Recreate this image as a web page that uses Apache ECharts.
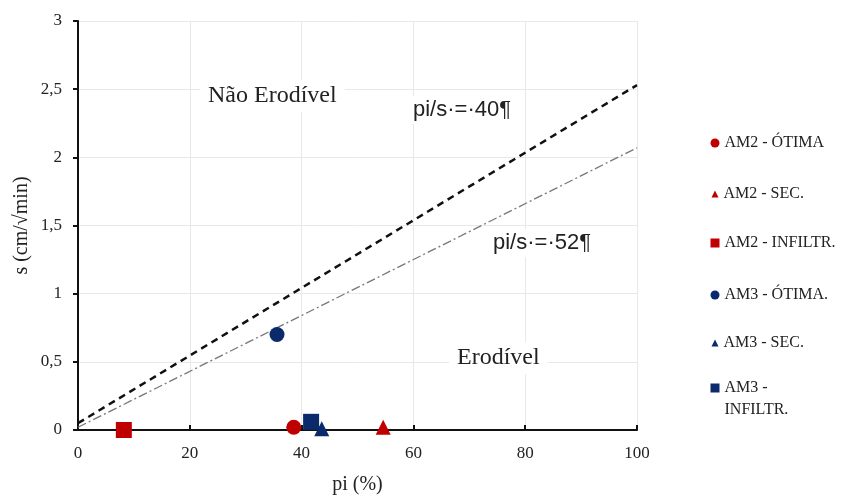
<!DOCTYPE html>
<html>
<head>
<meta charset="utf-8">
<script src="https://cdn.jsdelivr.net/npm/echarts@6/dist/echarts.min.js"></script>
<style>html,body{margin:0;padding:0;background:#fff}#chart{width:842px;height:495px}</style>
</head>
<body>
<div id="chart"></div>
<script>
// pontos (pi %, s)
var am2Otima = [[38.6, 0.02]];
var am2Sec = [[54.6, 0.02]];
var am2Infiltr = [[8.2, 0.0]];
var am3Otima = [[35.6, 0.70]];
var am3Sec = [[43.6, 0.01]];
var am3Infiltr = [[41.7, 0.06]];
// retas limite
var linha40 = [[0, 0.05], [100, 2.53]];
var linha52 = [[0, 0.02], [100, 2.07]];
var xTicks = [0, 20, 40, 60, 80, 100];
var yTicks = [0, 0.5, 1, 1.5, 2, 2.5, 3];
var nomes = ['AM2 - ÓTIMA', 'AM2 - SEC.', 'AM2 - INFILTR.', 'AM3 - ÓTIMA.', 'AM3 - SEC.', 'AM3 -\nINFILTR.'];

var RED = '#c00000', NAVY = '#0b2a6b';
var serif = 'Liberation Serif';

function pt(name, data, symbol, size, color) {
	return {name: name, type: 'scatter', data: data, symbol: symbol, symbolSize: size,
		itemStyle: {color: color, opacity: 1}, z: 5};
}

// uma legenda por item, para controlar tamanho do ícone e posição
var icones = ['circle', 'triangle', 'rect', 'circle', 'triangle', 'rect'];
var tamanhos = [9, 7, 9, 9, 7, 9];
var centros = [143, 194, 243, 295, 343, 388];
var legends = [];
for (var i = 0; i < nomes.length; i++) {
	var dois = nomes[i].indexOf('\n') >= 0;
	legends.push({
		orient: 'vertical', left: 715 - tamanhos[i] / 2,
		top: dois ? centros[i] - 33 : centros[i] - 11,
		padding: 0, itemGap: 0,
		itemWidth: tamanhos[i], itemHeight: tamanhos[i],
		textStyle: {fontFamily: serif, fontSize: 16, color: '#222', lineHeight: 22},
		// linha vazia em cima: a 1a linha do texto fica alinhada com o ícone
		formatter: function(name) { return name.indexOf('\n') >= 0 ? '\u00a0\n' + name : name; },
		data: [{name: nomes[i], icon: icones[i]}]
	});
}

var myChart = echarts.init(document.getElementById('chart'));
myChart.setOption({
	animation: false,
	textStyle: {fontFamily: serif},
	grid: {left: 78, right: 205, top: 21, bottom: 65, containLabel: false, outerBoundsMode: 'none'},
	legend: legends,
	xAxis: {
		type: 'value', min: 0, max: 100, interval: 20,
		name: 'pi (%)', nameLocation: 'middle', nameGap: 45, nameMoveOverlap: false,
		nameTextStyle: {fontFamily: serif, fontSize: 20, color: '#222'},
		axisLine: {show: true, onZero: false, lineStyle: {color: '#111', width: 2}},
		axisTick: {show: true, inside: true, length: 5, lineStyle: {color: '#111', width: 2}},
		axisLabel: {fontFamily: serif, fontSize: 17, color: '#222', margin: 15,
			formatter: function(v) { return xTicks.indexOf(v) >= 0 ? String(v) : ''; }},
		splitLine: {show: true, lineStyle: {color: '#e8e8e8'}}
	},
	yAxis: {
		type: 'value', min: 0, max: 3, interval: 0.5,
		name: 's (cm/√min)', nameLocation: 'middle', nameGap: 46, nameMoveOverlap: false,
		nameTextStyle: {fontFamily: serif, fontSize: 20, color: '#222'},
		axisLine: {show: true, lineStyle: {color: '#111', width: 2}},
		axisTick: {show: true, length: 5, lineStyle: {color: '#111', width: 2}},
		axisLabel: {fontFamily: serif, fontSize: 17, color: '#222', margin: 16,
			formatter: function(v) { return yTicks.indexOf(v) >= 0 ? String(v).replace('.', ',') : ''; }},
		splitLine: {show: true, lineStyle: {color: '#e8e8e8'}}
	},
	series: [
		{name: 'pi/s = 40', type: 'line', data: linha40, showSymbol: false, symbol: 'none',
			lineStyle: {color: '#111', width: 2.5, type: [7, 5]}, z: 3},
		{name: 'pi/s = 52', type: 'line', data: linha52, showSymbol: false, symbol: 'none',
			lineStyle: {color: '#777', width: 1.3, type: [9, 3, 2, 3]}, z: 3},
		pt(nomes[0], am2Otima, 'circle', 15, RED),
		pt(nomes[1], am2Sec, 'triangle', 15, RED),
		pt(nomes[2], am2Infiltr, 'rect', 16, RED),
		pt(nomes[3], am3Otima, 'circle', 15, NAVY),
		pt(nomes[4], am3Sec, 'triangle', 15, NAVY),
		pt(nomes[5], am3Infiltr, 'rect', 16, NAVY)
	],
	graphic: [
		{type: 'text', x: 200, y: 96, z: 2, style: {text: 'Não Erodível', font: '24px "Liberation Serif"', fill: '#222', verticalAlign: 'middle', backgroundColor: '#fff', padding: [4, 8]}},
		{type: 'text', x: 407, y: 110, z: 2, style: {text: 'pi/s·=·40¶', font: '22px "Liberation Sans"', fill: '#222', verticalAlign: 'middle', backgroundColor: '#fff', padding: [3, 6]}},
		{type: 'text', x: 487, y: 243, z: 2, style: {text: 'pi/s·=·52¶', font: '22px "Liberation Sans"', fill: '#222', verticalAlign: 'middle', backgroundColor: '#fff', padding: [3, 6]}},
		{type: 'text', x: 449, y: 358, z: 2, style: {text: 'Erodível', font: '24px "Liberation Serif"', fill: '#222', verticalAlign: 'middle', backgroundColor: '#fff', padding: [4, 8]}}
	]
});
</script>
</body>
</html>
